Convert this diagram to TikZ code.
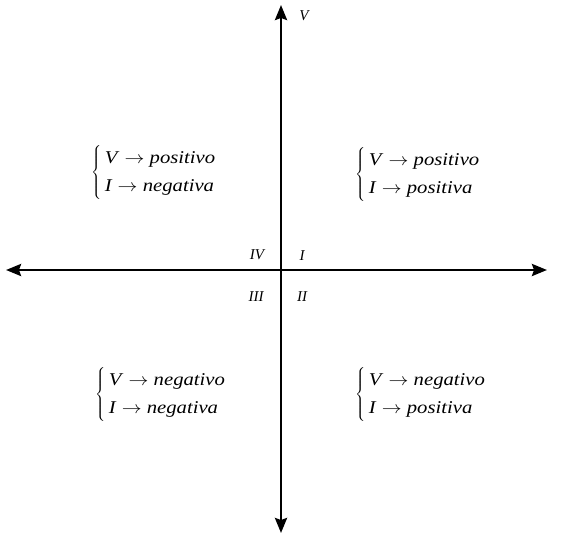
\documentclass[tikz,border=0pt]{standalone}
\usepackage{fontspec}
\usepackage{graphicx}
\setmainfont{Liberation Serif}
\usetikzlibrary{arrows.meta}
\begin{document}
\begin{tikzpicture}[x=1pt,y=-1pt,
  axis/.style={line width=2.6pt,{Stealth[length=15pt,width=12pt,inset=2pt]}-{Stealth[length=15pt,width=12pt,inset=2pt]}},
  quad/.style={anchor=west,inner sep=0pt,font=\fontsize{18}{21}\selectfont},
  lbl/.style={inner sep=0pt,font=\fontsize{15}{17}\selectfont\itshape}]
\useasboundingbox (0,0) rectangle (562,535);
\coordinate (L) at (6,270);
\coordinate (R) at (547,270);
\coordinate (T) at (281,5);
\coordinate (B) at (281,533);
\draw[axis] (L) -- (R);
\draw[axis] (T) -- (B);
\node[lbl] (v) at (304,16) {V};
\node[lbl] (q4) at (257,255) {IV};
\node[lbl] (q1) at (302,256) {I};
\node[lbl] (q3) at (256,297) {III};
\node[lbl] (q2) at (302,297) {II};
\newcommand{\qtext}[2]{\scalebox{1.15}[1]{$\left\{\renewcommand{\arraystretch}{1.33}\begin{tabular}{@{\hspace{3pt}}l@{}}\textit{V} $\rightarrow$ \textit{#1}\\ \textit{I} $\rightarrow$ \textit{#2}\end{tabular}\right.$}}
\node[quad] (a) at (91,172) {\qtext{positivo}{negativa}};
\node[quad] (b) at (355,174) {\qtext{positivo}{positiva}};
\node[quad] (c) at (95,394) {\qtext{negativo}{negativa}};
\node[quad] (d) at (355,394) {\qtext{negativo}{positiva}};
\end{tikzpicture}
\end{document}
